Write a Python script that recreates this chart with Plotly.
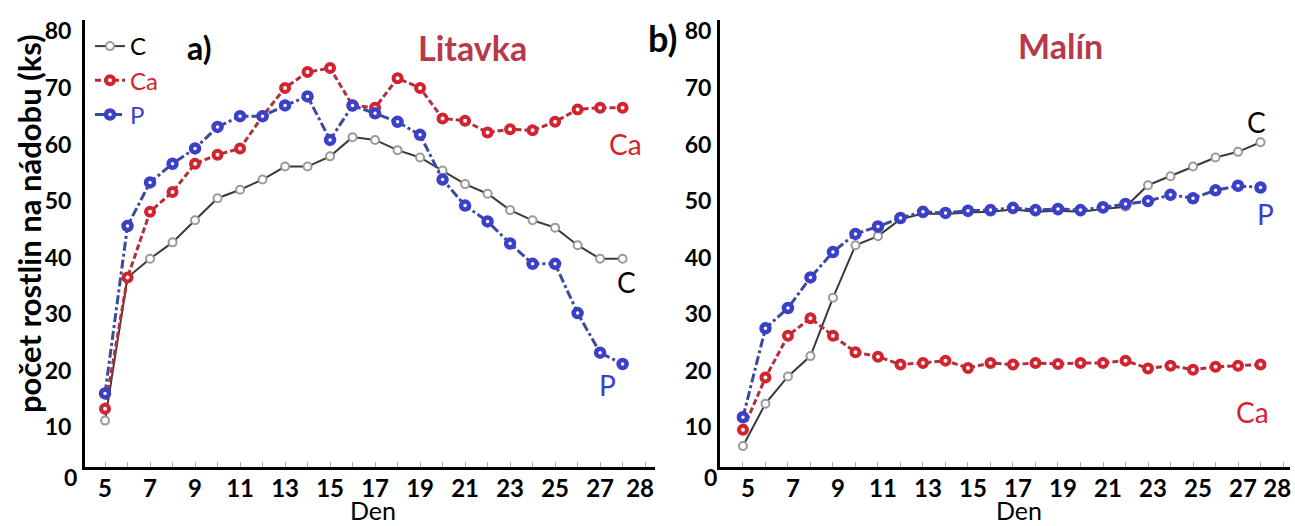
import plotly.graph_objects as go

# ---------------- data ----------------
days = list(range(5, 29))

# a) Litavka
lit_C = [11.2, 36.5, 39.8, 42.7, 46.6, 50.5, 52.0, 53.8, 56.1, 56.1, 57.9, 61.3,
         60.8, 59.0, 57.7, 55.4, 53.0, 51.3, 48.4, 46.6, 45.3, 42.2, 39.8, 39.8]
lit_Ca = [13.3, 36.5, 48.1, 51.6, 56.6, 58.2, 59.3, 65.0, 70.0, 72.8, 73.5, 66.9,
          66.5, 71.7, 70.0, 64.6, 64.2, 62.1, 62.7, 62.5, 64.0, 66.2, 66.5, 66.5]
lit_P = [16.0, 45.6, 53.3, 56.6, 59.3, 63.1, 65.0, 65.0, 66.9, 68.5, 60.8, 66.9,
         65.5, 64.0, 61.7, 53.8, 49.2, 46.4, 42.5, 38.9, 38.9, 30.2, 23.2, 21.2]

# b) Malín
mal_C = [6.7, 14.2, 19.0, 22.6, 32.9, 42.2, 43.8, 46.8, 47.8, 47.7, 48.0, 48.1,
         48.5, 48.1, 48.3, 48.1, 48.6, 49.0, 52.8, 54.4, 56.1, 57.7, 58.7, 60.4]
mal_Ca = [9.6, 18.8, 26.2, 29.3, 26.2, 23.3, 22.5, 21.1, 21.4, 21.8, 20.5, 21.4,
          21.1, 21.4, 21.2, 21.4, 21.4, 21.8, 20.4, 20.9, 20.2, 20.7, 20.9, 21.1]
mal_P = [11.8, 27.5, 31.1, 36.5, 41.0, 44.2, 45.5, 47.0, 48.1, 47.9, 48.3, 48.4,
         48.8, 48.4, 48.6, 48.4, 48.9, 49.5, 50.0, 51.1, 50.5, 51.9, 52.7, 52.4]

x_tickvals = [5, 7, 9, 11, 13, 15, 17, 19, 21, 23, 25, 27, 28]
y_tickvals = [10, 20, 30, 40, 50, 60, 70, 80]

# ---------------- style ----------------
W, H = 1295, 526
RED = "#d2232f"
RED_LINE = "#b0303c"
BLUE = "#3a40c8"
BLUE_LINE = "#3a4a9e"
GRAY_LINE = "#3a3a3a"
TITLE_RED = "#b8394a"
FONT = "Lato"


def px_x(p):
    return p / W


def px_y(p):
    return (H - p) / H


styles = {
    "C": dict(mode="lines+markers",
              line=dict(color=GRAY_LINE, width=2),
              marker=dict(symbol="circle", size=8, color="white",
                          line=dict(color="#9a9a9a", width=2))),
    "Ca": dict(mode="lines+markers",
               line=dict(color=RED_LINE, width=3, dash="6px,3px"),
               marker=dict(symbol="circle", size=8, color="white",
                           line=dict(color=RED, width=4))),
    "P": dict(mode="lines+markers",
              line=dict(color=BLUE_LINE, width=3, dash="dashdot"),
              marker=dict(symbol="circle", size=8, color="white",
                          line=dict(color=BLUE, width=4.5))),
}
legend_names = {
    "C": "<span style='color:black'>C</span>",
    "Ca": "<span style='color:%s'>Ca</span>" % RED,
    "P": "<span style='color:%s'>P</span>" % BLUE,
}

fig = go.Figure()
for key, ys in [("C", lit_C), ("Ca", lit_Ca), ("P", lit_P)]:
    fig.add_trace(go.Scatter(x=days, y=ys, name=legend_names[key],
                             xaxis="x", yaxis="y", showlegend=True,
                             **styles[key]))
for key, ys in [("C", mal_C), ("Ca", mal_Ca), ("P", mal_P)]:
    fig.add_trace(go.Scatter(x=days, y=ys, name=key,
                             xaxis="x2", yaxis="y2", showlegend=False,
                             **styles[key]))

nb = "\u00a0"
ticktext_left = [str(v) for v in x_tickvals[:-1]] + [nb * 6 + str(x_tickvals[-1])]
ticktext_right = [str(v) for v in x_tickvals[:-1]] + [nb * 4 + str(x_tickvals[-1])]

tickfont = dict(family=FONT, size=23, color="black", weight="bold")
xtickfont = dict(family=FONT, size=24, color="black", weight="bold")


def xaxis_common(domain, rng, ticktext, anchor, shift):
    return dict(domain=domain, range=rng, anchor=anchor, automargin=False,
                showline=True, linecolor="black", linewidth=3,
                showgrid=False, zeroline=False,
                tickmode="array", tickvals=x_tickvals, ticktext=ticktext,
                tickangle=0,
                ticks="inside", ticklen=5, tickcolor="#aaaaaa", tickwidth=1,
                minor=dict(tick0=5, dtick=1, ticks="inside", ticklen=5,
                           tickcolor="#aaaaaa", tickwidth=1),
                tickfont=xtickfont, ticklabelshift=shift,
                ticklabelstandoff=-2)


def yaxis_common(anchor, standoff):
    return dict(domain=[px_y(467), px_y(20)], range=[3, 82], anchor=anchor,
                automargin=False,
                showline=True, linecolor="black", linewidth=3,
                showgrid=False, zeroline=False,
                tickmode="array", tickvals=y_tickvals,
                ticks="", tickfont=tickfont, ticklabelstandoff=standoff)


fig.update_layout(
    width=W, height=H,
    margin=dict(l=0, r=0, t=0, b=0),
    paper_bgcolor="white", plot_bgcolor="white",
    xaxis=xaxis_common([px_x(85), px_x(655)], [4.11, 29.44], ticktext_left, "y", 0),
    yaxis=yaxis_common("x", 6),
    xaxis2=xaxis_common([px_x(720), px_x(1290)], [3.98, 29.31], ticktext_right, "y2", 5),
    yaxis2=yaxis_common("x2", 1),
    legend=dict(x=px_x(90), y=px_y(24), xanchor="left", yanchor="top",
                bgcolor="rgba(0,0,0,0)", font=dict(family=FONT, size=24),
                itemwidth=30, tracegroupgap=0),
)


def text_ann(text, x, y, size, color, weight="normal", angle=0):
    return dict(text=text, x=px_x(x), y=px_y(y), xref="paper", yref="paper",
                xanchor="center", yanchor="middle", showarrow=False,
                textangle=angle,
                font=dict(family=FONT, size=size, color=color, weight=weight))


ann = [
    text_ann("počet rostlin na nádobu (ks)", 29, 224, 31, "black", "bold", -90),
    text_ann("Den", 373, 510, 25, "black"),
    text_ann("Den", 1019, 510, 25, "black"),
    text_ann("Litavka", 472, 47, 34, TITLE_RED, "bold"),
    text_ann("Malín", 1060, 46, 34, TITLE_RED, "bold"),
    text_ann("a)", 199, 47, 32, "black", "bold"),
    text_ann("b)", 662, 38, 36, "black", "bold"),
]
# zero tick labels at the axis corners
ann.append(dict(text="0", x=px_x(85), y=px_y(477), xref="paper", yref="paper",
                xanchor="right", yanchor="middle",
                xshift=-6, showarrow=False, font=tickfont))
ann.append(dict(text="0", x=px_x(720), y=px_y(477), xref="paper", yref="paper",
                xanchor="right", yanchor="middle",
                xshift=-1, showarrow=False, font=tickfont))
# series end labels
lab_font = lambda c: dict(family=FONT, size=28, color=c)
ann += [
    dict(text="Ca", x=days[-1], y=lit_Ca[-1], xref="x", yref="y", xshift=3, yshift=-36,
         showarrow=False, font=lab_font(RED)),
    dict(text="C", x=days[-1], y=lit_C[-1], xref="x", yref="y", xshift=4, yshift=-23,
         showarrow=False, font=lab_font("black")),
    dict(text="P", x=days[-1], y=lit_P[-1], xref="x", yref="y", xshift=-15, yshift=-21,
         showarrow=False, font=lab_font(BLUE)),
    dict(text="C", x=days[-1], y=mal_C[-1], xref="x2", yref="y2", xshift=-4, yshift=20,
         showarrow=False, font=lab_font("black")),
    dict(text="P", x=days[-1], y=mal_P[-1], xref="x2", yref="y2", xshift=5, yshift=-27,
         showarrow=False, font=lab_font(BLUE)),
    dict(text="Ca", x=days[-1], y=mal_Ca[-1], xref="x2", yref="y2", xshift=-8, yshift=-47,
         showarrow=False, font=lab_font(RED)),
]
fig.update_layout(annotations=ann)

# remove the browser's default 8px page margin so the figure sits at the window origin
fig.write_html("out.html",
               config={"displayModeBar": False},
               post_script="document.body.style.margin='0';document.body.style.overflow='hidden';")
